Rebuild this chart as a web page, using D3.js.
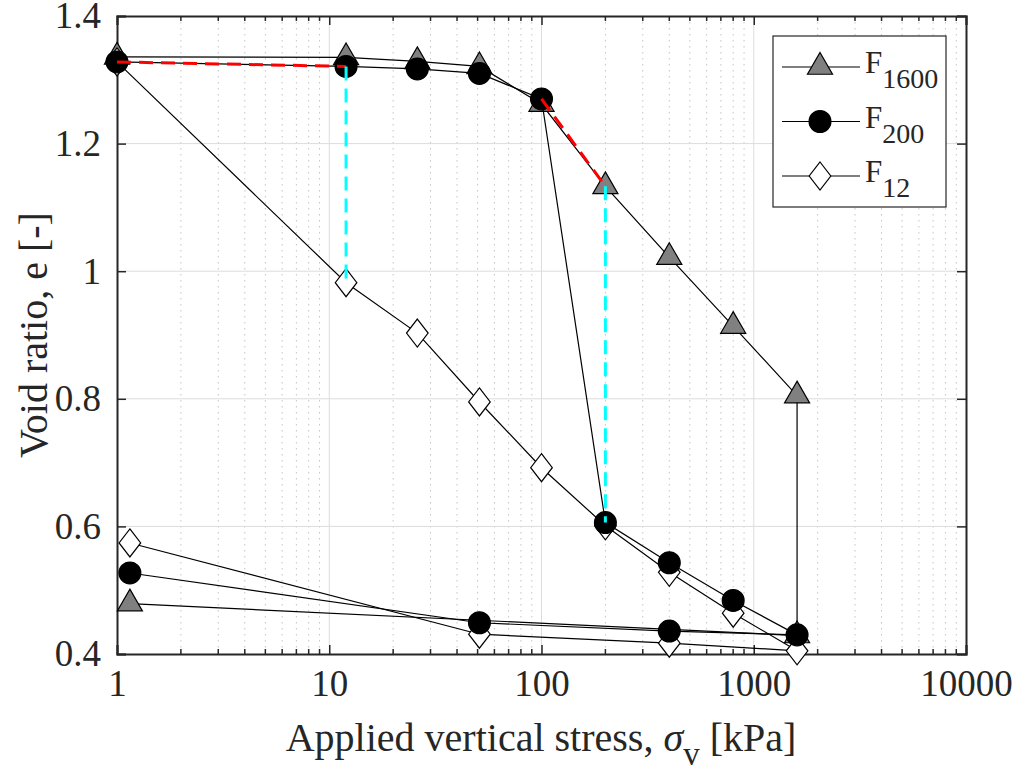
<html>
<head>
<script src="https://d3js.org/d3.v7.min.js" charset="utf-8"></script>
<style>
  body { margin: 0; background: white; }
  text { font-family: "Liberation Serif", "Times New Roman", serif; fill: #262626; }
</style>
</head>
<body>
<script>
// consolidation data (stress in kPa, void ratio e)
var stressF1600 = [1, 12, 26, 51, 100, 200, 400, 800, 1600, 1600, 1.15];
var eF1600      = [1.336, 1.335, 1.329, 1.321, 1.262, 1.133, 1.022, 0.914, 0.805, 0.429, 0.479];

var stressF200 = [1, 12, 26, 51, 100, 200, 400, 800, 1600, 400, 51, 1.15];
var eF200      = [1.328, 1.321, 1.317, 1.310, 1.270, 0.606, 0.543, 0.484, 0.430, 0.436, 0.449, 0.527];

var stressF12 = [1, 12, 26, 51, 100, 200, 400, 800, 1600, 400, 51, 1.15];
var eF12      = [1.328, 0.982, 0.903, 0.795, 0.692, 0.601, 0.528, 0.464, 0.405, 0.417, 0.431, 0.574];

// dashed guide lines
var redStress  = [[1, 12], [100, 200]];
var redE       = [[1.328, 1.321], [1.270, 1.133]];
var cyanStress = [[12, 12], [200, 200]];
var cyanE      = [[1.321, 0.982], [1.133, 0.606]];

var xTicks = [1, 10, 100, 1000, 10000];
var yTicks = [0.4, 0.6, 0.8, 1, 1.2, 1.4];
var seriesNames = ["F", "F", "F"];
var seriesSubs  = ["1600", "200", "12"];

var width = 1014, height = 769;
var pL = 117, pR = 966, pT = 16, pB = 654;

var svg = d3.select("body").append("svg")
  .attr("width", width)
  .attr("height", height);

var x = d3.scaleLog().domain([1, 10000]).range([pL, pR]);
var y = d3.scaleLinear().domain([0.4, 1.4]).range([pB, pT]);

// minor ticks 2..9 per decade
var minor = [];
for (var d = 1; d < 10000; d *= 10) {
  for (var k = 2; k <= 9; k++) minor.push(d * k);
}

var grid = svg.append("g");
grid.selectAll(".minor").data(minor).enter().append("line")
  .attr("x1", d => x(d)).attr("x2", d => x(d))
  .attr("y1", pT).attr("y2", pB)
  .attr("stroke", "#c4c4c4").attr("stroke-width", 1)
  .attr("stroke-dasharray", "1.5,4.5");
grid.selectAll(".majx").data(xTicks.slice(1, -1)).enter().append("line")
  .attr("x1", d => x(d)).attr("x2", d => x(d))
  .attr("y1", pT).attr("y2", pB)
  .attr("stroke", "#dcdcdc").attr("stroke-width", 1);
grid.selectAll(".majy").data(yTicks.slice(1, -1)).enter().append("line")
  .attr("x1", pL).attr("x2", pR)
  .attr("y1", d => y(d)).attr("y2", d => y(d))
  .attr("stroke", "#dcdcdc").attr("stroke-width", 1);

// axes with inward ticks
var axisCol = "#262626";
var xb = svg.append("g").attr("transform", "translate(0," + pB + ")")
  .call(d3.axisBottom(x).tickValues(xTicks).tickSize(-9).tickFormat(d3.format("d")).tickPadding(16));
var xt = svg.append("g").attr("transform", "translate(0," + pT + ")")
  .call(d3.axisTop(x).tickValues(xTicks).tickSize(-9).tickFormat(""));
var yl = svg.append("g").attr("transform", "translate(" + pL + ",0)")
  .call(d3.axisLeft(y).tickValues(yTicks).tickSize(-9).tickFormat(d3.format("~g")).tickPadding(16));
var yr = svg.append("g").attr("transform", "translate(" + pR + ",0)")
  .call(d3.axisRight(y).tickValues(yTicks).tickSize(-9).tickFormat(""));

// minor ticks on top and bottom
svg.append("g").selectAll("line").data(minor).enter().append("line")
  .attr("x1", d => x(d)).attr("x2", d => x(d))
  .attr("y1", pB).attr("y2", pB - 5)
  .attr("stroke", axisCol).attr("stroke-width", 1.5);
svg.append("g").selectAll("line").data(minor).enter().append("line")
  .attr("x1", d => x(d)).attr("x2", d => x(d))
  .attr("y1", pT).attr("y2", pT + 5)
  .attr("stroke", axisCol).attr("stroke-width", 1.5);

[xb, xt, yl, yr].forEach(function(a) {
  a.select(".domain").attr("stroke", axisCol).attr("stroke-width", 2);
  a.selectAll(".tick line").attr("stroke", axisCol).attr("stroke-width", 1.5);
  a.selectAll("text").attr("font-size", 37).attr("font-family", "Liberation Serif").attr("fill", "#262626");
});

// series
var line = d3.line().x(d => x(d[0])).y(d => y(d[1]));

var diamond = "M0,-14L10.8,0L0,14L-10.8,0Z";
var series = [
  {s: stressF1600, e: eF1600, shape: d3.symbol().type(d3.symbolTriangle).size(272)(), fill: "#808080"},
  {s: stressF12, e: eF12, shape: diamond, fill: "#ffffff"},
  {s: stressF200, e: eF200, shape: d3.symbol().type(d3.symbolCircle).size(375)(), fill: "#000000"}
];

series.forEach(function(sr) {
  var pts = sr.s.map((v, i) => [v, sr.e[i]]);
  var g = svg.append("g");
  g.append("path").datum(pts)
    .attr("d", line).attr("fill", "none")
    .attr("stroke", "#000").attr("stroke-width", 1.2);
  g.selectAll("path.m").data(pts).enter().append("path")
    .attr("class", "m")
    .attr("d", sr.shape)
    .attr("transform", d => "translate(" + x(d[0]) + "," + y(d[1]) + ")")
    .attr("fill", sr.fill).attr("stroke", "#000").attr("stroke-width", 1.2);
});

// guides
function guide(sArr, eArr, col) {
  sArr.forEach(function(s, i) {
    var pts = s.map((v, j) => [v, eArr[i][j]]);
    svg.append("path").datum(pts)
      .attr("d", line).attr("fill", "none")
      .attr("stroke", col).attr("stroke-width", 3)
      .attr("stroke-dasharray", "14,8");
  });
}
guide(redStress, redE, "#ff0000");
guide(cyanStress, cyanE, "#00ffff");

// legend
var lg = svg.append("g");
lg.append("rect").attr("x", 773).attr("y", 36).attr("width", 173).attr("height", 171)
  .attr("fill", "white").attr("stroke", axisCol).attr("stroke-width", 1.2);
var legShapes = [series[0], series[2], series[1]];
legShapes.forEach(function(sr, i) {
  var ly = 67 + i * 54.5;
  lg.append("line").attr("x1", 782).attr("x2", 860).attr("y1", ly).attr("y2", ly)
    .attr("stroke", "#000").attr("stroke-width", 1.2);
  lg.append("path").attr("d", sr.shape)
    .attr("transform", "translate(820," + ly + ")")
    .attr("fill", sr.fill).attr("stroke", "#000").attr("stroke-width", 1.2);
  var t = lg.append("text").attr("x", 865).attr("y", ly + 6).attr("font-size", 31);
  t.append("tspan").text(seriesNames[i]);
  t.append("tspan").attr("dy", 15).attr("font-size", 28).text(seriesSubs[i]);
});

// axis titles
var xt2 = svg.append("text").attr("x", 541).attr("y", 751)
  .attr("text-anchor", "middle").attr("font-size", 40);
xt2.append("tspan").text("Applied vertical stress, ");
xt2.append("tspan").attr("font-style", "italic").text("σ");
xt2.append("tspan").attr("dy", 14).attr("font-size", 33).text("v");
xt2.append("tspan").attr("dy", -14).text(" [kPa]");

svg.append("text")
  .attr("transform", "translate(47,335) rotate(-90)")
  .attr("text-anchor", "middle").attr("font-size", 40)
  .text("Void ratio, e [-]");
</script>
</body>
</html>
